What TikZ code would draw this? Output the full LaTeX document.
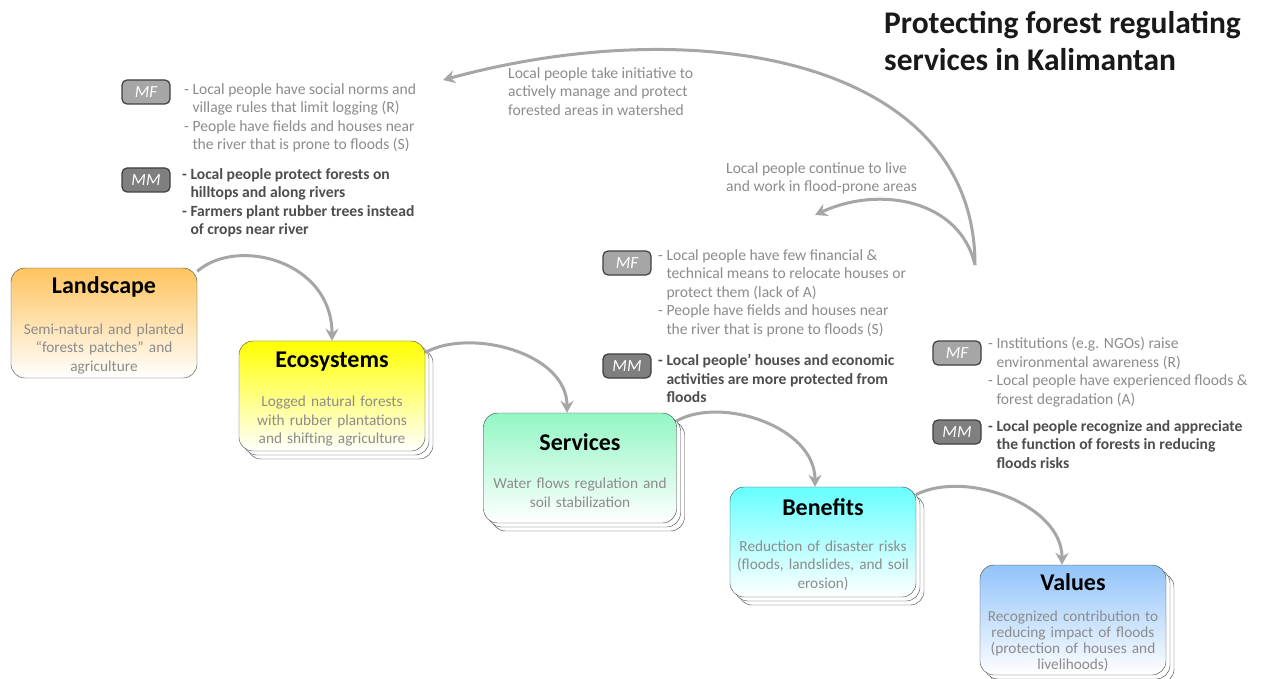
\documentclass[tikz,border=0pt]{standalone}
\usepackage{fontspec}
\setmainfont{Carlito}
\usetikzlibrary{arrows.meta,shadows,positioning}

\definecolor{arrowgray}{HTML}{A6A6A6}
\definecolor{boxline}{HTML}{404040}
\definecolor{bodytext}{HTML}{8C8C8C}
\definecolor{mftext}{HTML}{8C8C8C}
\definecolor{mmtext}{HTML}{4D4D4D}
\definecolor{mffill}{HTML}{A6A6A6}
\definecolor{mmfill}{HTML}{7F7F7F}
\definecolor{landcol}{RGB}{255,196,95}
\definecolor{ecocol}{RGB}{255,255,0}
\definecolor{servcol}{RGB}{146,246,196}
\definecolor{benecol}{RGB}{102,255,255}
\definecolor{valcol}{RGB}{145,195,250}

\tikzset{
  box/.style={draw=boxline, rounded corners=14pt, minimum width=186pt, minimum height=110pt,
    text width=178pt, align=center, bottom color=white, inner sep=2pt,
    font=\fontsize{15.3}{18.5}\selectfont, text=bodytext},
  stack/.style={double copy shadow={shadow xshift=4pt, shadow yshift=-4pt, fill=white, draw=boxline}},
  badge/.style={draw=boxline, line width=1.2pt, rounded corners=5pt, minimum width=48pt,
    minimum height=24pt, inner sep=0pt, text=white, font=\fontsize{17}{17}\selectfont\itshape},
  mf/.style={badge, fill=mffill},
  mm/.style={badge, fill=mmfill},
  factors/.style={anchor=north west, align=left, inner sep=0pt, text=mftext,
    font=\fontsize{15.6}{18.5}\selectfont},
  mechs/.style={factors, text=mmtext, font=\fontsize{15.6}{18.5}\selectfont\bfseries},
  flow/.style={draw=arrowgray, line width=3pt, -{Stealth[length=12pt,width=13pt,inset=4pt]}},
}
\newcommand\boxtitle[1]{{\fontsize{24}{24}\selectfont\bfseries\color{black}\rule{0pt}{22pt}#1}}

\begin{document}
\begin{tikzpicture}[x=1pt,y=-1pt]
  \useasboundingbox[fill=white] (0,0) rectangle (1261,679);

  % title
  \node[anchor=north west, align=left, inner sep=0pt, text=black!90,
    font=\fontsize{31.5}{37}\selectfont\bfseries] (title) at (884,11)
    {Protecting forest regulating\\services in Kalimantan};

  % cascade boxes
  \node[box, top color=landcol] (land) at (104,323)
    {\boxtitle{Landscape}\\[22pt]Semi-natural and planted\\“forests patches” and\\agriculture};
  \node[box, stack, top color=ecocol] (eco) at (332,396)
    {\boxtitle{Ecosystems}\\[21pt]Logged natural forests\\with rubber plantations\\and shifting agriculture};
  \node[box, stack, top color=servcol, minimum width=193pt] (serv) at (580,468)
    {\boxtitle{Services}\\[20pt]Water flows regulation and\\soil stabilization};
  \node[box, stack, top color=benecol] (bene) at (823,542)
    {\boxtitle{Benefits}\\[17pt]Reduction of disaster risks\\(floods, landslides, and soil\\erosion)};
  \node[box, stack, top color=valcol, font=\fontsize{15.3}{16}\selectfont] (val) at (1073,620)
    {\boxtitle{Values}\\[15pt]Recognized contribution to\\reducing impact of floods\\(protection of houses and\\livelihoods)};

  \draw[flow] (land.29) .. controls +(40,-35) and +(0,-80) .. (eco.north);
  \draw[flow] (eco.25) .. controls +(45,-25) and +(0,-60) .. ([xshift=-13pt]serv.north);
  \draw[flow] (serv.26) .. controls +(45,-25) and +(0,-60) .. ([xshift=-8pt]bene.north);
  \draw[flow] (bene.27) .. controls +(50,-25) and +(0,-60) .. ([xshift=-11pt]val.north);

  % feedback arcs
  \coordinate (src) at (975,265);
  \coordinate (tip1) at (443,80);
  \coordinate (tip2) at (815,215);
  \draw[flow] (src) .. controls (975,60) and (700,10) .. (tip1);
  \draw[flow] (src) .. controls (960,200) and (880,185) .. (tip2);
  \node[factors] (note1) at (508,67)
    {Local people take initiative to\\actively manage and protect\\forested areas in watershed};
  \node[factors] (note2) at (726,162)
    {Local people continue to live\\and work in flood-prone areas};

  % landscape -> ecosystems
  \node[mf] (mf1) at (146,92) {MF};
  \node[factors] (mf1t) at (184,83)
    {- Local people have social norms and\\\phantom{- }village rules that limit logging  (R)\\- People have fields and houses near\\\phantom{- }the river that is prone to floods (S)};
  \node[mm] (mm1) at (146,180) {MM};
  \node[mechs] (mm1t) at (182,168)
    {- Local people protect forests on\\\phantom{- }hilltops  and along rivers\\- Farmers plant rubber trees instead\\\phantom{- }of crops near river};

  % benefits
  \node[mf] (mf2) at (627,263) {MF};
  \node[factors] (mf2t) at (658,249)
    {- Local people have few financial \&\\\phantom{- }technical means to relocate houses or\\\phantom{- }protect them (lack of A)\\- People have fields and houses near\\\phantom{- }the river that is prone to floods (S)};
  \node[mm] (mm2) at (627,366) {MM};
  \node[mechs] (mm2t) at (658,354)
    {- Local people’ houses and economic\\\phantom{- }activities are more protected from\\\phantom{- }floods};

  % values
  \node[mf] (mf3) at (957,353) {MF};
  \node[factors] (mf3t) at (988,337)
    {- Institutions (e.g. NGOs) raise\\\phantom{- }environmental awareness (R)\\- Local people have experienced floods \&\\\phantom{- }forest degradation (A)};
  \node[mm] (mm3) at (957,432) {MM};
  \node[mechs] (mm3t) at (988,420)
    {- Local people recognize and appreciate\\\phantom{- }the function of forests in reducing\\\phantom{- }floods risks};
\end{tikzpicture}
\end{document}
